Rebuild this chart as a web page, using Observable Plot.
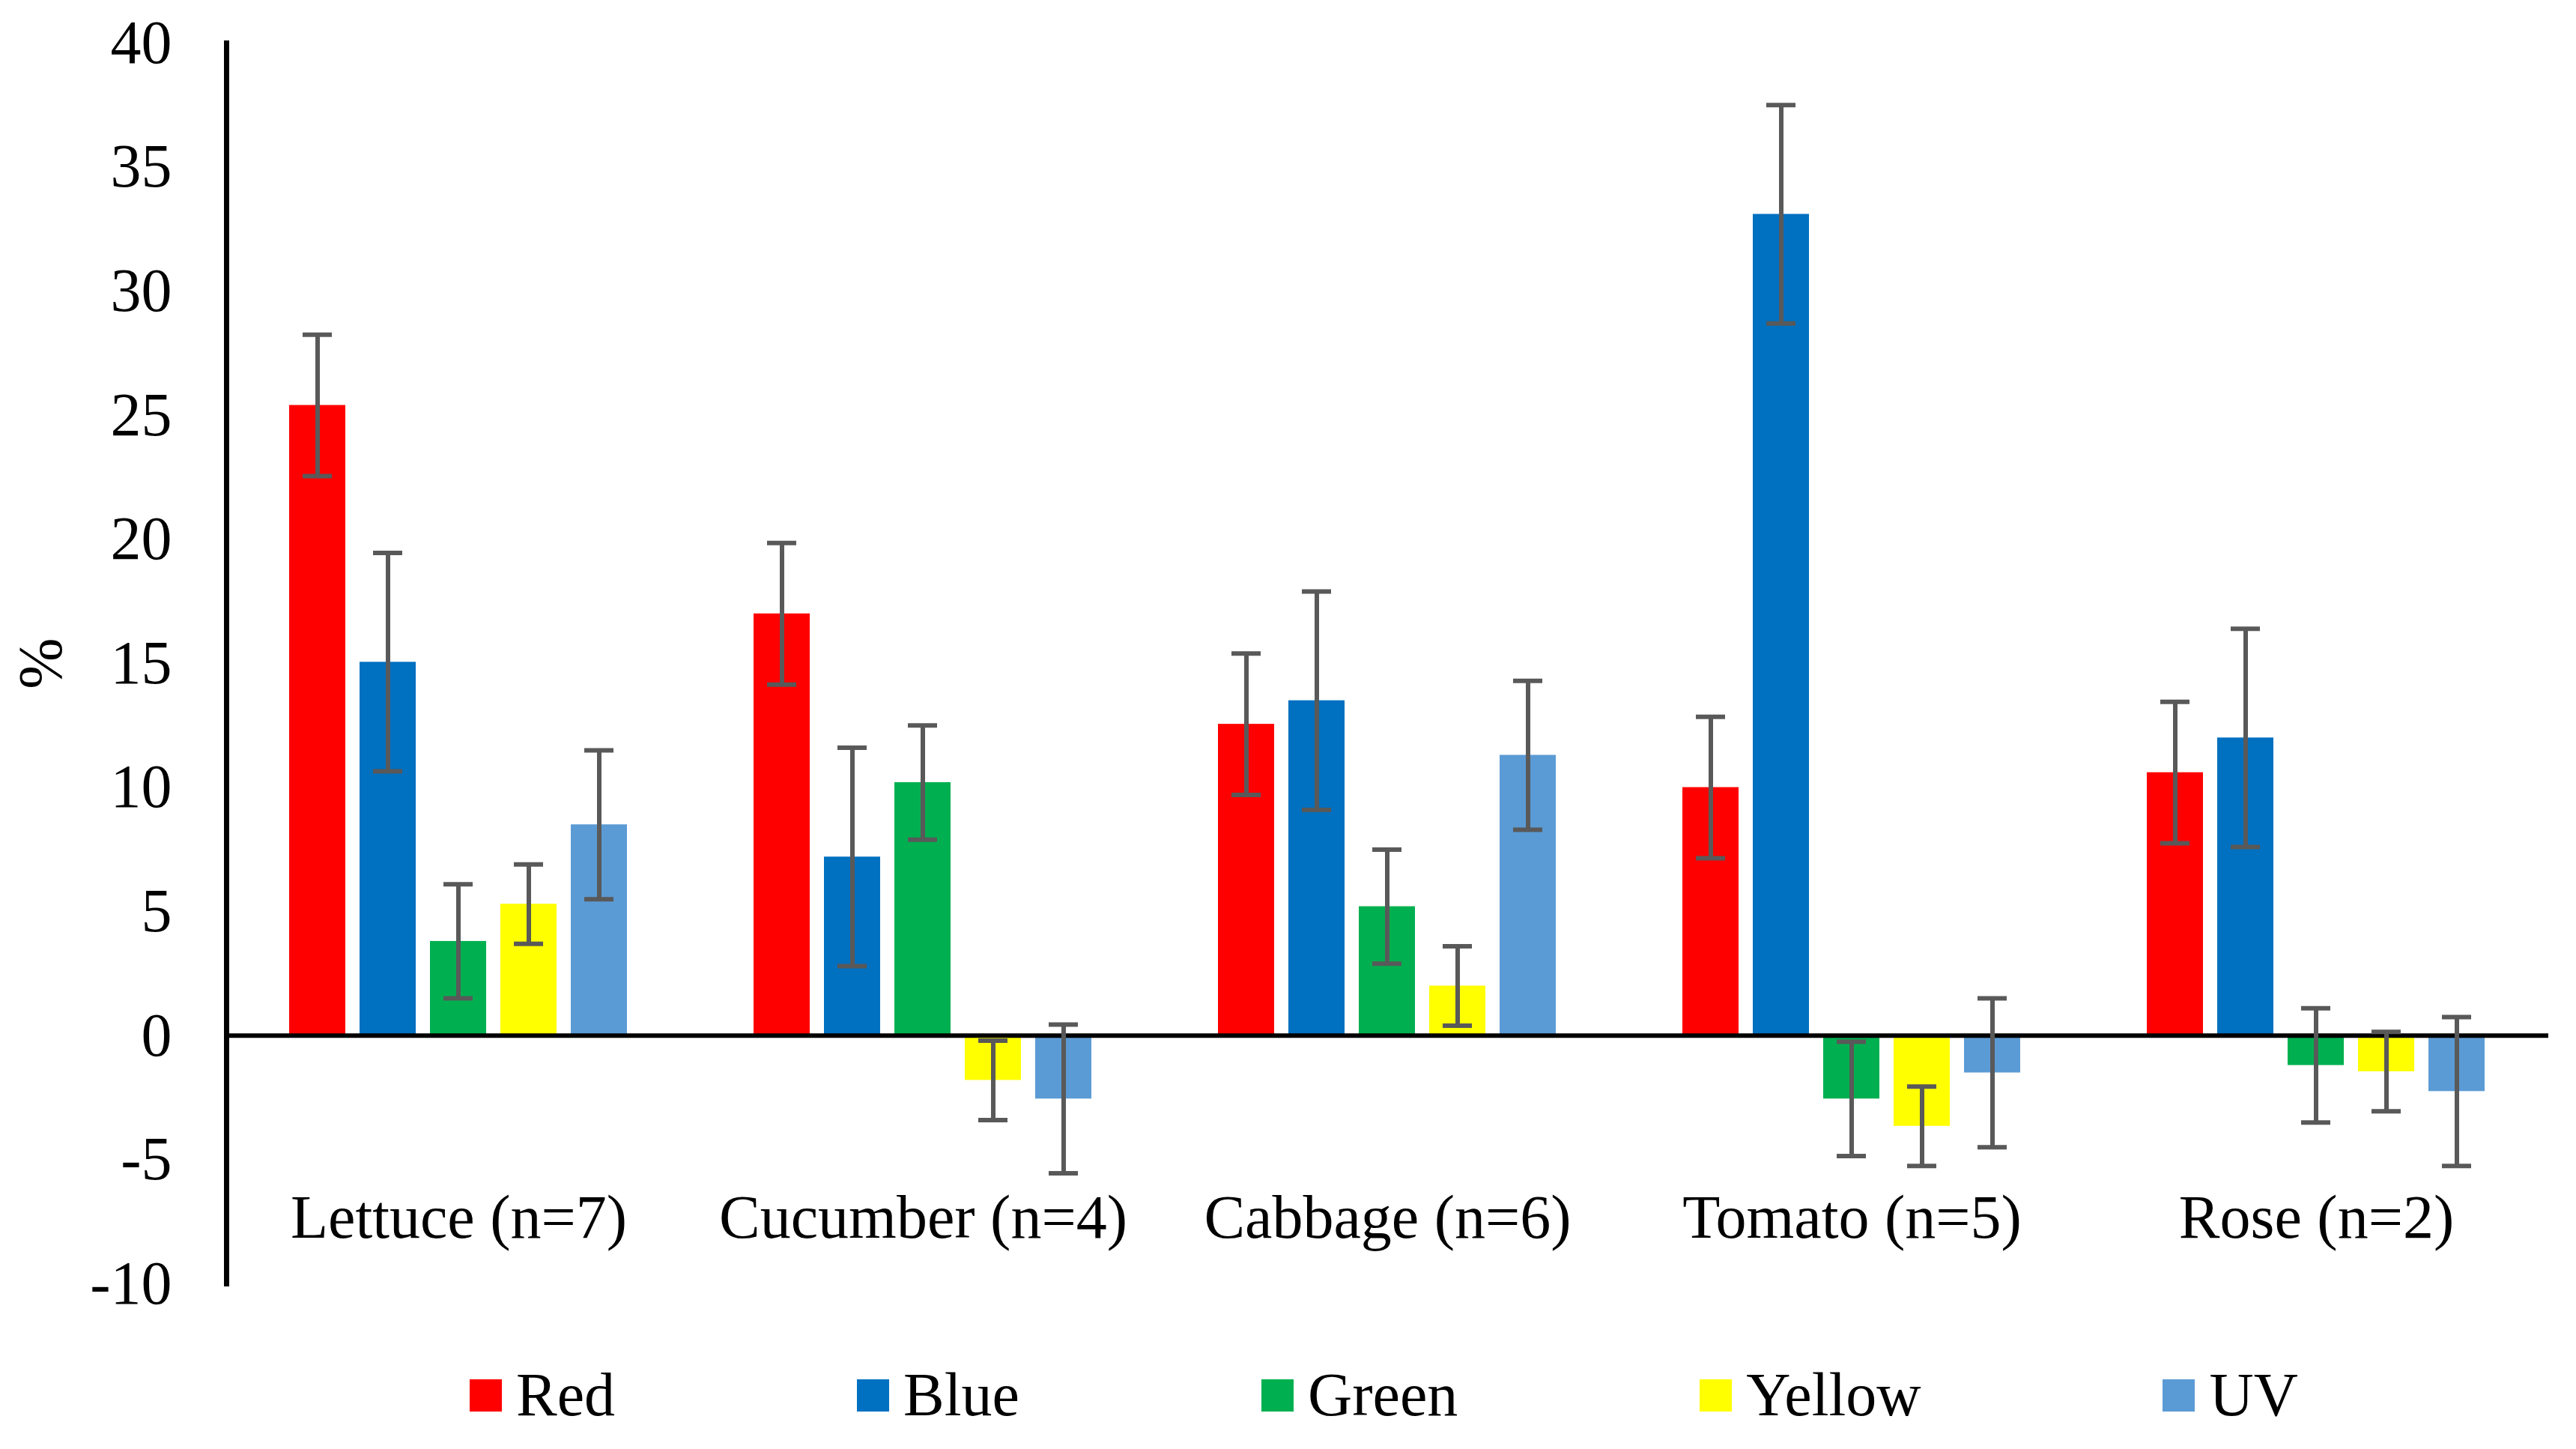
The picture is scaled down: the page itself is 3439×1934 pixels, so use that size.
<!DOCTYPE html>
<html><head><meta charset="utf-8">
<script src="https://cdn.jsdelivr.net/npm/d3@7"></script>
<script src="https://cdn.jsdelivr.net/npm/@observablehq/plot@0.6"></script>
<style>
html,body{margin:0;padding:0;background:#fff;}
body{width:3439px;height:1934px;overflow:hidden;font-family:"Liberation Serif","Times New Roman",serif;}
#chart svg{display:block;}
#chart svg, #chart svg g, #chart svg text{font-family:"Liberation Serif","Times New Roman",serif !important;}
#legend{display:flex;align-items:center;height:144px;padding-left:627px;box-sizing:border-box;}
.item{display:flex;align-items:center;margin-right:323px;font-size:82px;color:#000;line-height:1;}
.sw{width:43px;height:43px;margin-right:19px;flex:none;}
</style></head><body>
<div id="chart"></div><div id="legend"></div>
<script>
const categories = ["Lettuce (n=7)", "Cucumber (n=4)", "Cabbage (n=6)", "Tomato (n=5)", "Rose (n=2)"];
const series = ["Red", "Blue", "Green", "Yellow", "UV"];
const colors = ["#FF0000", "#0070C0", "#00B050", "#FFFF00", "#5B9BD5"];
const redValues    = [25.4, 17.0, 12.55, 10.0, 10.6];
const blueValues   = [15.05, 7.2, 13.5, 33.1, 12.0];
const greenValues  = [3.8, 10.2, 5.2, -2.55, -1.2];
const yellowValues = [5.3, -1.8, 2.0, -3.65, -1.45];
const uvValues     = [8.5, -2.55, 11.3, -1.5, -2.25];
const redErrors    = [2.85, 2.85, 2.85, 2.85, 2.85];
const blueErrors   = [4.4, 4.4, 4.4, 4.4, 4.4];
const greenErrors  = [2.3, 2.3, 2.3, 2.3, 2.3];
const yellowErrors = [1.6, 1.6, 1.6, 1.6, 1.6];
const uvErrors     = [3.0, 3.0, 3.0, 3.0, 3.0];
const yTicks = [-10, -5, 0, 5, 10, 15, 20, 25, 30, 35, 40];
const yLabel = "%";

const values = [redValues, blueValues, greenValues, yellowValues, uvValues];
const errors = [redErrors, blueErrors, greenErrors, yellowErrors, uvErrors];
const data = [];
categories.forEach((c, i) => series.forEach((s, j) => data.push({group: c, series: s, value: values[j][i], err: errors[j][i]})));

const serif = "Liberation Serif, Times New Roman, serif";
const errStyle = {stroke: "#595959", strokeWidth: 6};
const chart = Plot.plot({
  width: 3439, height: 1790,
  marginLeft: 300, marginRight: 35, marginTop: 57, marginBottom: 77,
  style: {fontFamily: serif, fontSize: "82px", color: "#000", background: "#fff"},
  fx: {domain: categories, padding: 0, axis: null},
  x: {domain: series, paddingInner: 0.2, paddingOuter: 0.867, axis: null},
  y: {domain: [-10, 40]},
  color: {domain: series, range: colors},
  marks: [
    Plot.barY(data, {fx: "group", x: "series", y: "value", fill: "series"}),
    Plot.ruleY([0], {stroke: "#000", strokeWidth: 6}),
    Plot.ruleX(data, {fx: "group", x: "series", y1: d => d.value - d.err, y2: d => d.value + d.err, ...errStyle}),
    Plot.tickY(data, {fx: "group", x: "series", y: d => d.value + d.err, insetLeft: 18, insetRight: 18, ...errStyle}),
    Plot.tickY(data, {fx: "group", x: "series", y: d => d.value - d.err, insetLeft: 18, insetRight: 18, ...errStyle}),
    Plot.text(categories, {fx: d => d, text: d => d, frameAnchor: "bottom", dy: -62, fontSize: 82, fontFamily: serif, fill: "#000"}),
    Plot.axisY({ticks: yTicks, tickFormat: d => String(d), tickSize: 0, tickPadding: 73, fontSize: 82, fontFamily: serif, fontVariant: "normal", label: yLabel, labelAnchor: "center", labelOffset: 280, labelArrow: "none"}),
    Plot.frame({anchor: "left", facetAnchor: "left", stroke: "#000", strokeWidth: 7})
  ]
});
d3.select(chart).selectAll("text, g").attr("font-family", serif).style("font-family", serif);
document.getElementById("chart").appendChild(chart);

const legend = document.getElementById("legend");
series.forEach((s, j) => {
  const item = document.createElement("div");
  item.className = "item";
  const sw = document.createElement("div");
  sw.className = "sw";
  sw.style.background = colors[j];
  const t = document.createElement("span");
  t.textContent = s;
  item.appendChild(sw); item.appendChild(t);
  legend.appendChild(item);
});
</script></body></html>
